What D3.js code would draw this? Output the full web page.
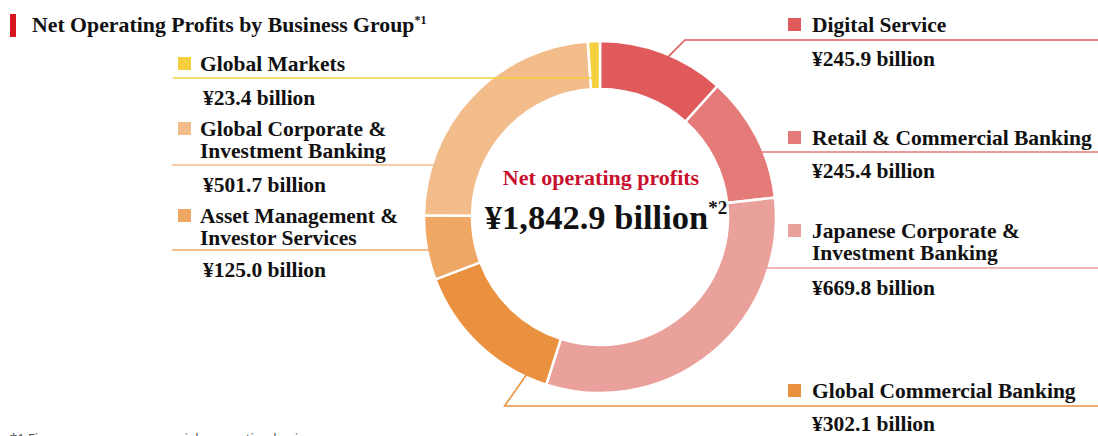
<!DOCTYPE html>
<html>
<head>
<meta charset="utf-8">
<script src="https://cdn.jsdelivr.net/npm/d3@7"></script>
<style>
  body { margin: 0; background: #fff; }
  svg { display: block; font-family: "Liberation Serif", "Times New Roman", serif; }
</style>
</head>
<body>
<svg></svg>
<script>
"use strict";

// data, clockwise from 12 o'clock
const groups = [
  "Digital Service",
  "Retail & Commercial Banking",
  "Japanese Corporate & Investment Banking",
  "Global Commercial Banking",
  "Asset Management & Investor Services",
  "Global Corporate & Investment Banking",
  "Global Markets",
];
const labelLines = [
  ["Digital Service"],
  ["Retail & Commercial Banking"],
  ["Japanese Corporate &", "Investment Banking"],
  ["Global Commercial Banking"],
  ["Asset Management &", "Investor Services"],
  ["Global Corporate &", "Investment Banking"],
  ["Global Markets"],
];
const profits = [245.9, 245.4, 669.8, 302.1, 125.0, 501.7, 23.4];
const colors = ["#e05a5b", "#e47b78", "#eba19b", "#ea913f", "#efa864", "#f3bd8b", "#f4d03e"];
const total = 1842.9;

const width = 1098;
const height = 436;
const cx = 600;
const cy = 217;
const outerR = 176;
const innerR = 128;

const svg = d3.select("svg").attr("width", width).attr("height", height);

// title
svg.append("rect").attr("x", 10).attr("y", 14).attr("width", 6).attr("height", 23).attr("fill", "#d7141f");
const title = svg.append("text").attr("x", 32).attr("y", 32)
  .attr("font-size", 21.8).attr("font-weight", "bold").attr("fill", "#111");
title.append("tspan").text("Net Operating Profits by Business Group");
title.append("tspan").attr("dy", -8).attr("font-size", 12).text("*1");

const pie = d3.pie().sort(null).value((d) => d);
const arcs = pie(profits);
const arc = d3.arc().innerRadius(innerR).outerRadius(outerR);

const g = svg.append("g").attr("transform", `translate(${cx},${cy})`);

const polar = (a, r) => [cx + r * Math.sin(a), cy - r * Math.cos(a)];
const xOnCircle = (y, side) => cx + side * Math.sqrt(outerR * outerR - (y - cy) * (y - cy));

// label layout: side, line y, label baselines, value baseline
const layout = [
  { side: 1, lineY: 40, base: [32], valueY: 66 },
  { side: 1, lineY: 152, base: [145], valueY: 178 },
  { side: 1, lineY: 268, base: [238, 260], valueY: 295 },
  { side: 1, lineY: 406, base: [398], valueY: 431 },
  { side: -1, lineY: 250, base: [223, 245], valueY: 277 },
  { side: -1, lineY: 165, base: [136, 158], valueY: 192 },
  { side: -1, lineY: 78, base: [71], valueY: 105 },
];

// leader lines (drawn under the ring, except Global Markets which crosses it)
const leaders = svg.append("g").attr("fill", "none").attr("stroke-width", 1.6);

arcs.forEach((d, i) => {
  const L = layout[i];
  let pts;
  if (i === 0) {
    const a = d.startAngle + 0.55 * (d.endAngle - d.startAngle);
    const p = polar(a, outerR - 2);
    pts = [p, [p[0] + (p[1] - L.lineY), L.lineY], [width, L.lineY]];
  } else if (i === 3) {
    const a = d.startAngle + 0.14 * (d.endAngle - d.startAngle);
    const p = polar(a, outerR - 2);
    pts = [p, [p[0] - (L.lineY - p[1]) * 0.7, L.lineY], [width, L.lineY]];
  } else if (i === 6) {
    return;
  } else if (L.side > 0) {
    pts = [[xOnCircle(L.lineY, 1) - 3, L.lineY], [width, L.lineY]];
  } else {
    pts = [[xOnCircle(L.lineY, -1) + 3, L.lineY], [172, L.lineY]];
  }
  leaders.append("path").attr("d", d3.line()(pts)).attr("stroke", colors[i]);
});

g.selectAll("path")
  .data(arcs)
  .join("path")
  .attr("d", arc)
  .attr("fill", (d, i) => colors[i])
  .attr("stroke", "#fff")
  .attr("stroke-width", 2.5);

// Global Markets leader runs across the ring into its thin slice
{
  const d = arcs[6];
  const a = (d.startAngle + d.endAngle) / 2;
  const dy = cy - layout[6].lineY;
  const xEnd = cx + dy * Math.tan(a);
  svg.append("path")
    .attr("d", d3.line()([[173, layout[6].lineY], [xEnd + 1, layout[6].lineY]]))
    .attr("stroke", colors[6]).attr("stroke-width", 1.6).attr("fill", "none");
}

// labels
const fmt = d3.format(",.1f");
const labels = svg.append("g").attr("font-weight", "bold").attr("fill", "#111").attr("font-size", 21.5);

groups.forEach((name, i) => {
  const L = layout[i];
  const sx = L.side > 0 ? 788 : 178;
  const tx = L.side > 0 ? 812 : 200;
  const vx = L.side > 0 ? 812 : 203;
  labels.append("rect")
    .attr("x", sx).attr("y", L.base[0] - 14)
    .attr("width", 13).attr("height", 13)
    .attr("fill", colors[i]);
  labelLines[i].forEach((line, j) => {
    labels.append("text").attr("x", tx).attr("y", L.base[j]).text(line);
  });
  labels.append("text").attr("x", vx).attr("y", L.valueY).text(`¥${fmt(profits[i])} billion`);
});

// centre
svg.append("text")
  .attr("x", cx + 1).attr("y", 185)
  .attr("text-anchor", "middle")
  .attr("font-size", 22).attr("font-weight", "bold").attr("fill", "#c8102e")
  .text("Net operating profits");

const big = svg.append("text")
  .attr("x", cx + 6).attr("y", 229)
  .attr("text-anchor", "middle")
  .attr("font-size", 34.5).attr("font-weight", "bold").attr("fill", "#111");
big.append("tspan").text(`¥${fmt(total)} billion`);
big.append("tspan").attr("dy", -15).attr("font-size", 19).text("*2");

// footnote, mostly cut off at the bottom edge as in the source
svg.append("text")
  .attr("x", 10).attr("y", 443)
  .attr("font-family", "Noto Sans, sans-serif")
  .attr("font-size", 13).attr("fill", "#555")
  .text("*1 Figures are on a managerial accounting basis");
</script>
</body>
</html>
